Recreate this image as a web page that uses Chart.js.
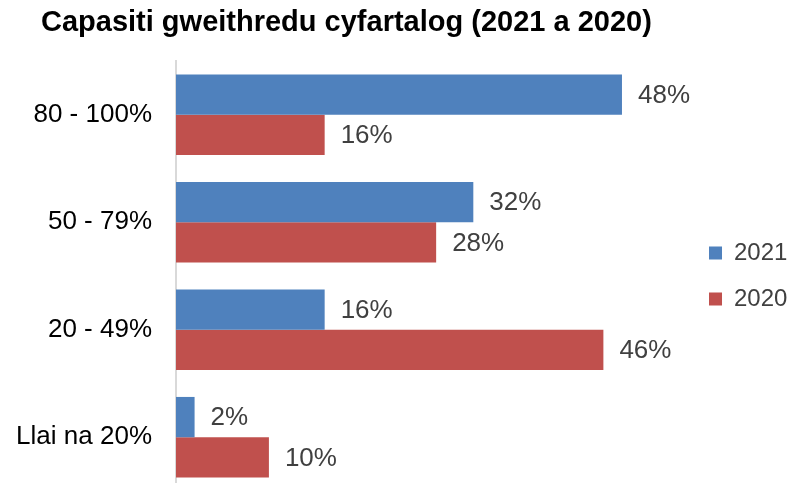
<!DOCTYPE html>
<html>
<head>
<meta charset="utf-8">
<script src="https://cdn.jsdelivr.net/npm/chart.js@4"></script>
<style>
  html, body { margin: 0; padding: 0; background: #fff; overflow: hidden; }
  #wrap { position: relative; width: 791px; height: 491px; }
  #title {
    position: absolute; left: 41px; top: 5px;
    font: bold 29px "Liberation Sans", Arial, sans-serif; color: #000;
    white-space: nowrap;
  }
</style>
</head>
<body>
<div id="wrap">
  <div id="title">Capasiti gweithredu cyfartalog (2021 a 2020)</div>
  <canvas id="chart" width="791" height="491"></canvas>
</div>
<script>
// Data
const categories = ['80 - 100%', '50 - 79%', '20 - 49%', 'Llai na 20%'];
const values2021 = [48, 32, 16, 2];
const values2020 = [16, 28, 46, 10];
const seriesLabels = ['2021', '2020'];

const FONT = '"Liberation Sans", Arial, sans-serif';

// draw the "48%" style labels at the end of each bar
const barLabels = {
  id: 'barLabels',
  afterDatasetsDraw(chart) {
    const ctx = chart.ctx;
    ctx.save();
    ctx.font = '26px ' + FONT;
    ctx.fillStyle = '#404040';
    ctx.textAlign = 'left';
    ctx.textBaseline = 'middle';
    chart.data.datasets.forEach((ds, i) => {
      chart.getDatasetMeta(i).data.forEach((bar, j) => {
        ctx.fillText(ds.data[j] + '%', bar.x + 16, bar.y + 1);
      });
    });
    ctx.restore();
  }
};

new Chart(document.getElementById('chart'), {
  type: 'bar',
  data: {
    labels: categories,
    datasets: [
      { label: seriesLabels[0], data: values2021, backgroundColor: '#4F81BD' },
      { label: seriesLabels[1], data: values2020, backgroundColor: '#C0504D' },
    ]
  },
  options: {
    indexAxis: 'y',
    responsive: false,
    animation: false,
    categoryPercentage: 0.75,
    barPercentage: 1.0,
    // canvas is a bit taller than the window so the plot runs off the bottom like the original
    layout: { padding: { top: 61, left: 0, right: -6.4, bottom: 0 } },
    plugins: {
      legend: {
        position: 'right',
        labels: {
          boxWidth: 13,
          boxHeight: 13,
          padding: 22,
          color: '#404040',
          font: { family: FONT, size: 24 }
        }
      },
      tooltip: { enabled: false }
    },
    scales: {
      x: {
        display: false,
        min: 0,
        max: 55
      },
      y: {
        grid: { display: false, drawTicks: false },
        border: { display: true, color: '#D9D9D9', width: 2 },
        ticks: {
          color: '#000',
          padding: 24,
          font: { family: FONT, size: 26 }
        },
        afterFit(scale) {
          scale.width = 176;
          scale.paddingTop = 0;
          scale.paddingBottom = 0;
        }
      }
    }
  },
  plugins: [barLabels]
});
</script>
</body>
</html>
